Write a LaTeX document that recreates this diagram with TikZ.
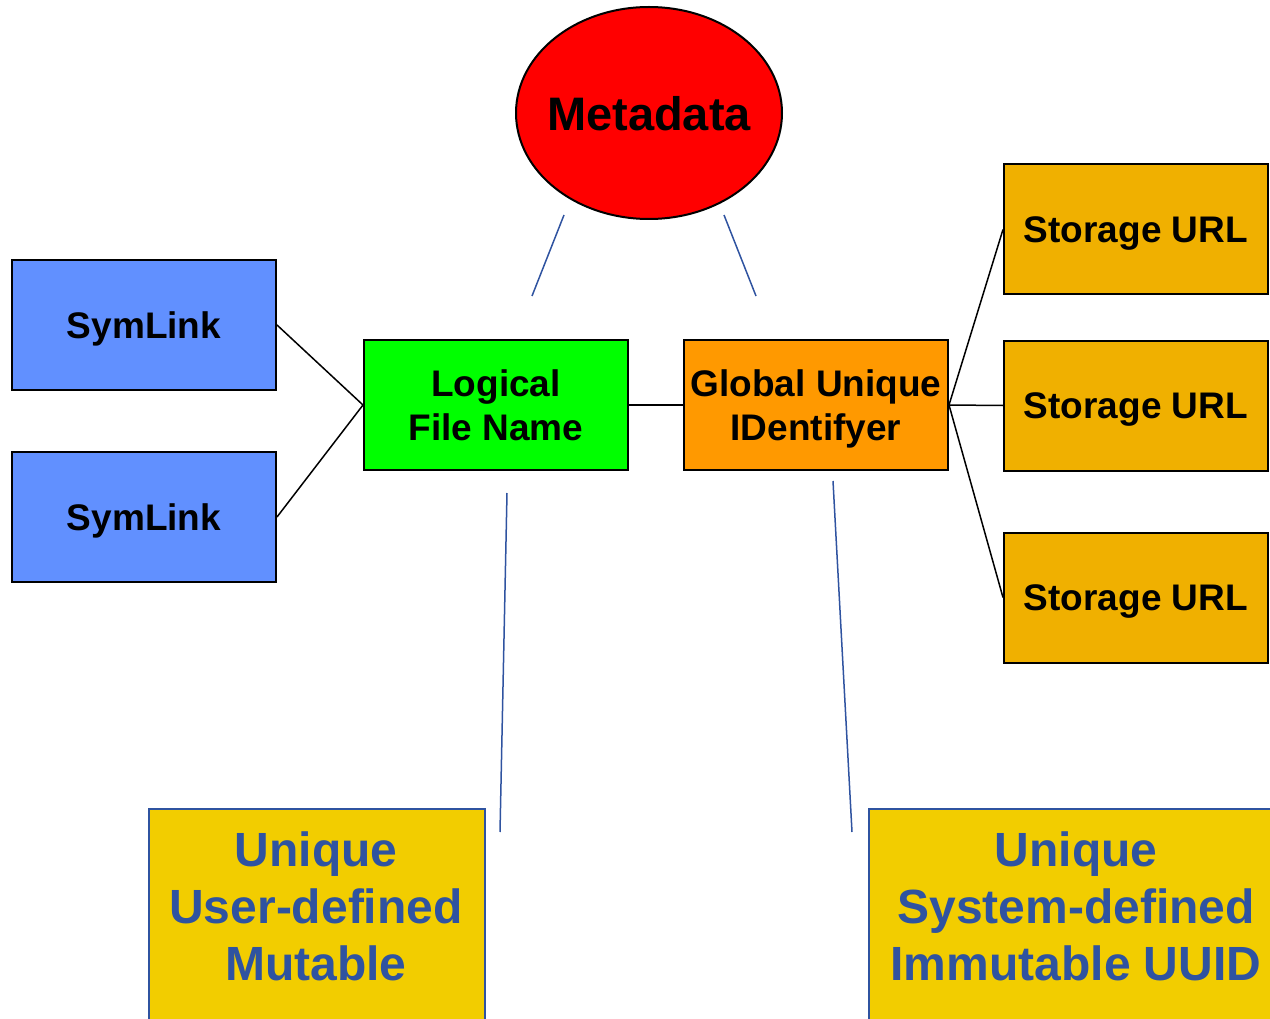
\documentclass[tikz,border=0pt]{standalone}
\usepackage{fontspec}
\setmainfont{Liberation Sans}
\usetikzlibrary{shapes.geometric}
\definecolor{symblue}{HTML}{6190FF}
\definecolor{lfngreen}{HTML}{00FF00}
\definecolor{guidorange}{HTML}{FF9900}
\definecolor{storeorange}{HTML}{F0B000}
\definecolor{noteyellow}{HTML}{F2CD00}
\definecolor{noteblue}{HTML}{2F53A0}
\tikzset{
  box/.style={draw=black, line width=2pt, minimum width=264pt, minimum height=130pt, inner sep=0pt, align=center, text depth=0pt, font=\fontsize{37}{44}\selectfont\bfseries},
  conn/.style={draw=black, line width=1.5pt},
  bconn/.style={draw=noteblue, line width=1.5pt},
  notebox/.style={draw=noteblue, line width=2pt, fill=noteyellow, inner sep=0pt},
  notetext/.style={text=noteblue, align=center, inner sep=0pt, font=\fontsize{48}{57}\selectfont\bfseries}
}
\begin{document}
\begin{tikzpicture}[x=1pt,y=-1pt]
\useasboundingbox (0,0) rectangle (1270,1019);
\clip (0,0) rectangle (1270,1019);
\node[ellipse, draw=black, line width=2pt, fill=red, minimum width=266pt, minimum height=212pt, inner sep=0pt] (meta) at (649,113) {};
\node[inner sep=0pt, text depth=0pt, font=\fontsize{47}{56}\selectfont\bfseries] (metat) at (meta.center) {Metadata};
\node[box, fill=symblue] (sym1) at (144,325) {SymLink};
\node[box, fill=symblue] (sym2) at (144,517) {SymLink};
\node[box, fill=lfngreen] (lfn) at (496,405) {Logical\\File Name};
\node[box, fill=guidorange] (guid) at (816,405) {Global Unique\\IDentifyer};
\node[box, fill=storeorange] (st1) at (1136,229.5) {Storage URL};
\node[box, fill=storeorange] (st2) at (1136,405.5) {Storage URL};
\node[box, fill=storeorange] (st3) at (1136,597.5) {Storage URL};
\node[notebox, minimum width=336pt, minimum height=240pt, anchor=north west] (n1) at (148,808) {};
\node[notebox, minimum width=440pt, minimum height=240pt, anchor=north west] (n2) at (868,808) {};
\node[notetext] (n1t) at (316,906) {Unique\\User-defined\\Mutable};
\node[notetext] (n2t) at (1076,906) {Unique\\System-defined\\Immutable UUID};
\draw[conn] (sym1.east) -- (lfn.west);
\draw[conn] (sym2.east) -- (lfn.west);
\draw[conn] (lfn.east) -- (guid.west);
\draw[conn] (guid.east) -- (st1.west);
\draw[conn] (guid.east) -- (st2.west);
\draw[conn] (guid.east) -- (st3.west);
\coordinate (m1) at (564,215);
\coordinate (m2) at (532,296);
\coordinate (m3) at (724,215);
\coordinate (m4) at (756,296);
\coordinate (l1) at (507,493);
\coordinate (l2) at (500,832);
\coordinate (g1) at (833,481);
\coordinate (g2) at (852,832);
\draw[bconn] (m1) -- (m2);
\draw[bconn] (m3) -- (m4);
\draw[bconn] (l1) -- (l2);
\draw[bconn] (g1) -- (g2);
\end{tikzpicture}
\end{document}
